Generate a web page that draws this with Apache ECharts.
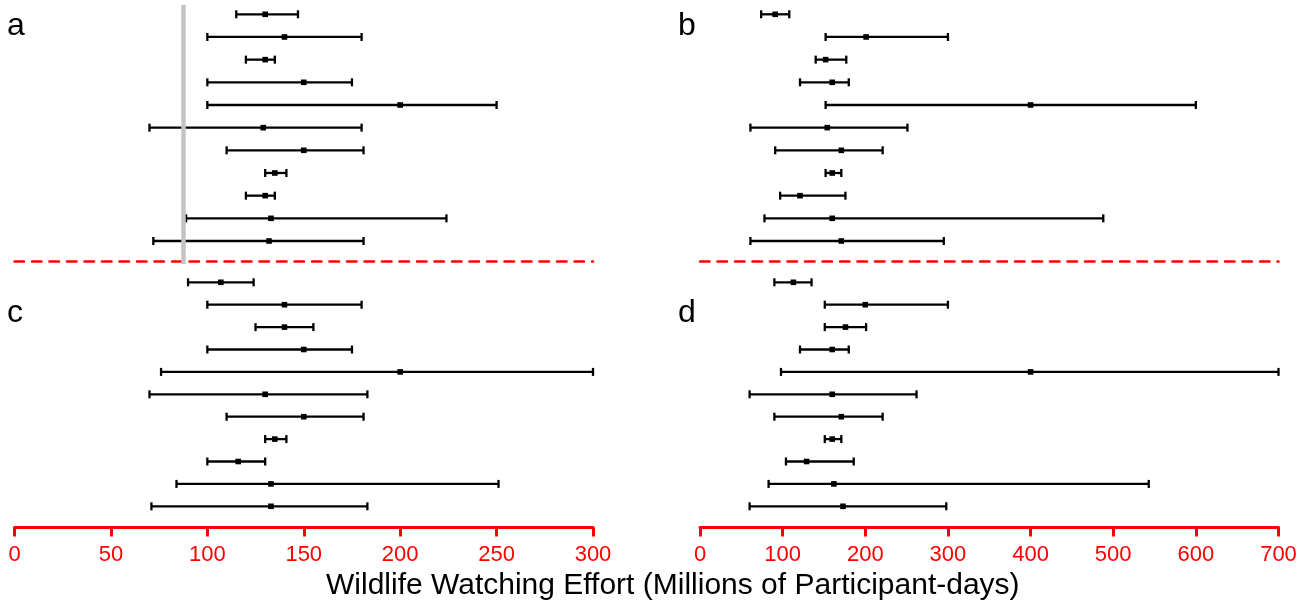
<!DOCTYPE html>
<html>
<head>
<meta charset="utf-8">
<script src="https://cdn.jsdelivr.net/npm/echarts@6/dist/echarts.min.js"></script>
<style>
html,body{margin:0;padding:0;background:#fff;}
#chart{width:1315px;height:611px;}
</style>
</head>
<body>
<div id="chart"></div>
<script>
// ---- data (low, mean, high) per panel, rows top to bottom ----
const rowIndex = [0,1,2,3,4,5,6,7,8,9,10];

const aLow  = [115,100,120,100,100, 70,110,130,120, 89, 72];
const aMid  = [130,140,130,150,200,129,150,135,130,133,132];
const aHigh = [147,180,135,175,250,180,181,141,135,224,181];

const bLow  = [ 74,152,140,121,152, 61, 91,152, 97, 78, 61];
const bMid  = [ 91,201,152,160,400,154,171,160,121,160,171];
const bHigh = [108,300,177,180,600,251,221,171,176,488,295];

const cLow  = [ 90,100,125,100, 76, 70,110,130,100, 84, 71];
const cMid  = [107,140,140,150,200,130,150,135,116,133,133];
const cHigh = [124,180,155,175,300,183,181,141,130,251,183];

const dLow  = [ 90,151,151,121, 98, 60, 90,151,104, 83, 60];
const dMid  = [113,200,176,160,400,160,171,160,129,162,173];
const dHigh = [135,300,201,180,700,262,221,171,186,543,298];

const refLineA = 87.4;

const leftMax = 300, leftInterval = 50;
const rightMax = 700, rightInterval = 100;

const panelLetters = ['a','b','c','d'];
const axisTitle = 'Wildlife Watching Effort (Millions of Participant-days)';

// ---- build ----
function rows(lo, mid, hi){
  return rowIndex.map((r,i)=>[r, lo[i], mid[i], hi[i]]);
}
function renderErr(params, api){
  const y = api.value(0);
  const pL = api.coord([api.value(1), y]);
  const pM = api.coord([api.value(2), y]);
  const pH = api.coord([api.value(3), y]);
  const st = {stroke:'#000', lineWidth:2.3};
  const cap = 4;
  return {type:'group', children:[
    {type:'line', shape:{x1:pL[0],y1:pL[1],x2:pH[0],y2:pH[1]}, style:st},
    {type:'line', shape:{x1:pL[0],y1:pL[1]-cap,x2:pL[0],y2:pL[1]+cap}, style:st},
    {type:'line', shape:{x1:pH[0],y1:pH[1]-cap,x2:pH[0],y2:pH[1]+cap}, style:st},
    {type:'rect', shape:{x:pM[0]-2.8,y:pM[1]-2.8,width:5.6,height:5.6}, style:{fill:'#000'}}
  ]};
}

const FONT = '"Liberation Sans", Arial, sans-serif';
const RED = '#ff0000';

const grids = [
  {left:14.5, width:578.5, top:5, height:259},
  {left:700, width:578.5, top:5, height:259},
  {left:14.5, width:578.5, top:271.1, height:256.4},
  {left:700, width:578.5, top:271.1, height:256.4}
];

function topX(gi, max, interval){
  return {type:'value', gridIndex:gi, min:0, max:max, interval:interval, position:'bottom', offset:-3,
    axisLine:{show:true, onZero:false, lineStyle:{color:RED, width:2.5, type:[9.5,8]}},
    axisTick:{show:false}, axisLabel:{show:false}, splitLine:{show:false}};
}
function botX(gi, max, interval){
  return {type:'value', gridIndex:gi, min:0, max:max, interval:interval, position:'bottom',
    axisLine:{show:true, onZero:false, lineStyle:{color:RED, width:3}},
    axisTick:{show:true, length:9, lineStyle:{color:RED, width:3}},
    axisLabel:{show:true, color:RED, fontSize:22, fontFamily:FONT, margin:16},
    splitLine:{show:false}};
}
function yAx(gi, min, max){
  return {type:'value', gridIndex:gi, inverse:true, min:min, max:max, show:false,
    splitLine:{show:false}};
}

const option = {
  animation:false,
  backgroundColor:'#fff',
  grid: grids,
  xAxis:[
    topX(0, leftMax, leftInterval),
    topX(1, rightMax, rightInterval),
    botX(2, leftMax, leftInterval),
    botX(3, rightMax, rightInterval)
  ],
  yAxis:[
    yAx(0, (5-14.3)/22.67, (264-14.3)/22.67),
    yAx(1, (5-14.3)/22.67, (264-14.3)/22.67),
    yAx(2, -0.5, (527.5-282.3)/22.4),
    yAx(3, -0.5, (527.5-282.3)/22.4)
  ],
  series:[
    {type:'custom', xAxisIndex:0, yAxisIndex:0, renderItem:renderErr,
      encode:{x:[1,2,3], y:0}, data:rows(aLow,aMid,aHigh), clip:false},
    {type:'custom', xAxisIndex:1, yAxisIndex:1, renderItem:renderErr,
      encode:{x:[1,2,3], y:0}, data:rows(bLow,bMid,bHigh), clip:false},
    {type:'custom', xAxisIndex:2, yAxisIndex:2, renderItem:renderErr,
      encode:{x:[1,2,3], y:0}, data:rows(cLow,cMid,cHigh), clip:false},
    {type:'custom', xAxisIndex:3, yAxisIndex:3, renderItem:renderErr,
      encode:{x:[1,2,3], y:0}, data:rows(dLow,dMid,dHigh), clip:false},
    {type:'line', xAxisIndex:0, yAxisIndex:0, data:[], z:5,
      markLine:{silent:true, symbol:['none','none'], label:{show:false},
        lineStyle:{color:'#c4c4c4', width:4.5, type:'solid'},
        data:[{xAxis:refLineA}]}}
  ],
  graphic:[
    {type:'text', left:7, top:10, style:{text:panelLetters[0], fontSize:32, fontFamily:FONT, fill:'#000'}},
    {type:'text', left:678, top:10, style:{text:panelLetters[1], fontSize:32, fontFamily:FONT, fill:'#000'}},
    {type:'text', left:7, top:297, style:{text:panelLetters[2], fontSize:32, fontFamily:FONT, fill:'#000'}},
    {type:'text', left:678, top:297, style:{text:panelLetters[3], fontSize:32, fontFamily:FONT, fill:'#000'}},
    {type:'text', left:326, top:571, style:{text:axisTitle, fontSize:30, fontFamily:FONT, fill:'#000'}}
  ]
};

const chart = echarts.init(document.getElementById('chart'), null, {renderer:'canvas'});
chart.setOption(option);
</script>
</body>
</html>
